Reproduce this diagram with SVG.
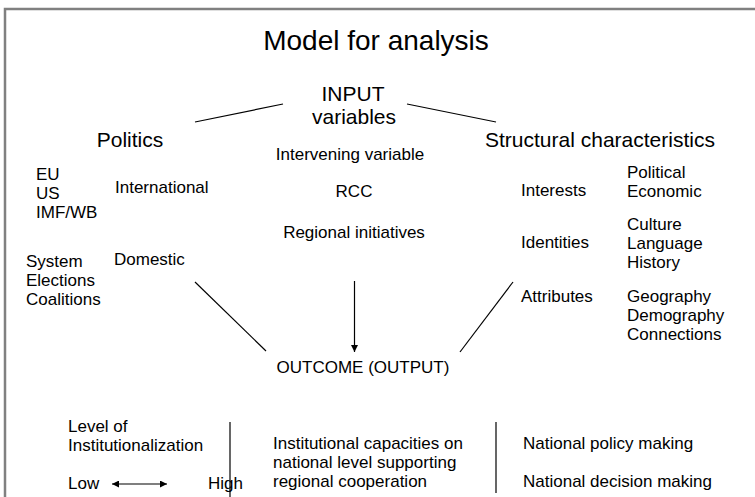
<svg xmlns="http://www.w3.org/2000/svg" width="755" height="497" viewBox="0 0 755 497">
<style>
text{font-family:"Liberation Sans",Arial,sans-serif;fill:#000}
.t{font-size:28px}
.h{font-size:21px}
.b{font-size:17px}
.c{text-anchor:middle}
.ln{stroke:#000;stroke-width:1.2;fill:none}
</style>
<defs>
<marker id="ah" viewBox="0 0 10 10" refX="10" refY="5" markerWidth="7" markerHeight="7" markerUnits="userSpaceOnUse" orient="auto-start-reverse">
<path d="M0,0 L10,5 L0,10 z" fill="#000"/>
</marker>
</defs>
<rect x="0" y="0" width="755" height="497" fill="#fff"/>
<rect x="5" y="9" width="760" height="500" fill="none" stroke="#808080" stroke-width="2.5"/>
<text class="t c" x="376" y="50">Model for analysis</text>
<g id="input"><text class="h c" x="353" y="101">INPUT</text><text class="h c" x="354" y="124">variables</text></g>
<g id="politics"><text class="h c" x="130" y="147">Politics</text></g>
<g id="international"><text class="b" x="36" y="180">EU</text><text class="b" x="36" y="199">US</text><text class="b" x="36" y="218">IMF/WB</text><text class="b" x="115" y="193">International</text></g>
<g id="domestic"><text class="b" x="26" y="267">System</text><text class="b" x="26" y="286">Elections</text><text class="b" x="26" y="305">Coalitions</text><text class="b" x="114" y="265">Domestic</text></g>
<g id="structural"><text class="h" x="485" y="147">Structural characteristics</text></g>
<g id="interests"><text class="b" x="521" y="196">Interests</text><text class="b" x="627" y="178">Political</text><text class="b" x="627" y="197">Economic</text></g>
<g id="identities"><text class="b" x="521" y="248">Identities</text><text class="b" x="627" y="230">Culture</text><text class="b" x="627" y="249">Language</text><text class="b" x="627" y="268">History</text></g>
<g id="attributes"><text class="b" x="521" y="302">Attributes</text><text class="b" x="627" y="302">Geography</text><text class="b" x="627" y="321">Demography</text><text class="b" x="627" y="340">Connections</text></g>
<g id="intervening"><text class="b c" x="350" y="160">Intervening variable</text><text class="b c" x="354" y="197">RCC</text><text class="b c" x="354" y="238">Regional initiatives</text></g>
<g id="outcome"><text class="b c" x="363" y="373">OUTCOME (OUTPUT)</text></g>
<g id="level"><text class="b" x="68" y="432">Level of</text><text class="b" x="68" y="451">Institutionalization</text><text class="b" x="68" y="489">Low</text><text class="b" x="208" y="489">High</text></g>
<g id="capacities"><text class="b" x="273" y="449">Institutional capacities on</text><text class="b" x="273" y="468">national level supporting</text><text class="b" x="273" y="487">regional cooperation</text></g>
<g id="national"><text class="b" x="523" y="449">National policy making</text><text class="b" x="523" y="487">National decision making</text></g>
<g id="connectors">
<line class="ln" x1="195" y1="122" x2="283" y2="104"/>
<line class="ln" x1="407" y1="104" x2="496" y2="122"/>
<line class="ln" x1="195" y1="282" x2="266" y2="351"/>
<line class="ln" x1="513" y1="282" x2="460" y2="352"/>
<line class="ln" x1="354.5" y1="281" x2="354.5" y2="352" marker-end="url(#ah)"/>
<line class="ln" x1="112" y1="484" x2="167" y2="484" marker-start="url(#ah)" marker-end="url(#ah)"/>
<line class="ln" x1="230" y1="422" x2="230" y2="497"/>
<line class="ln" x1="496" y1="422" x2="496" y2="493"/>
</g>
</svg>
